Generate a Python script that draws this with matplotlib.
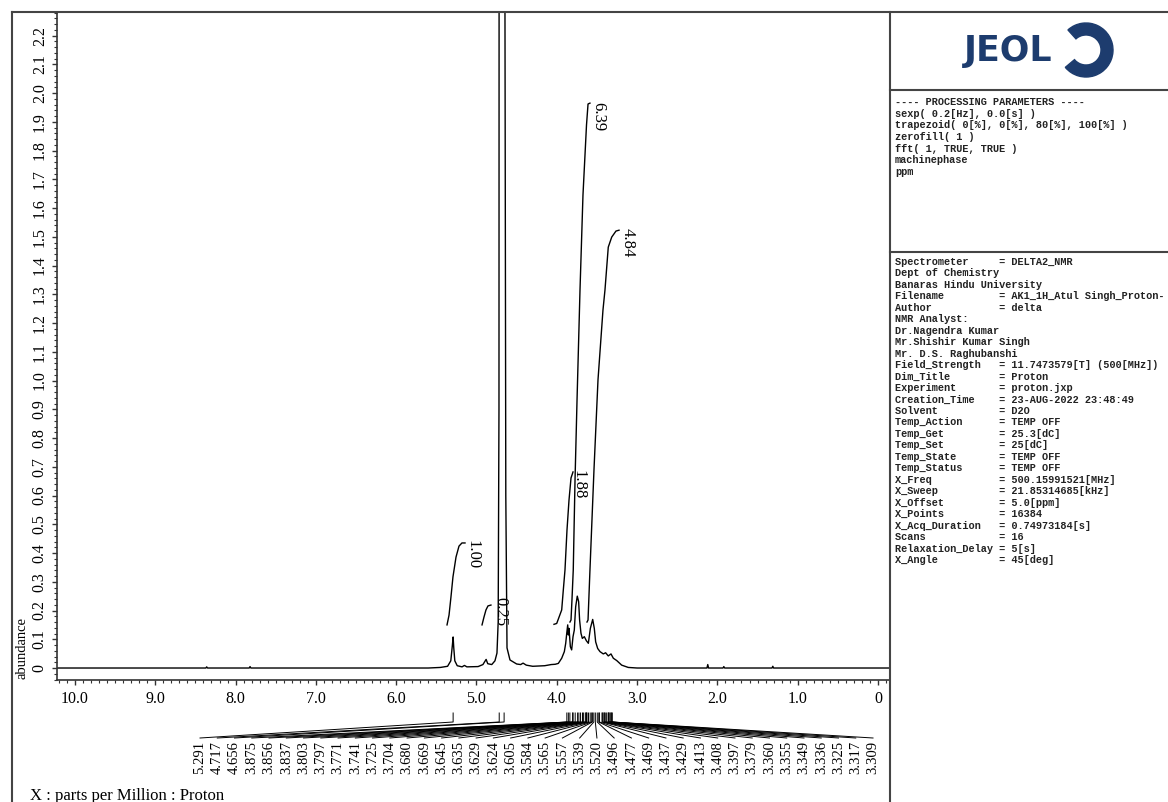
import matplotlib.pyplot as plt
import numpy as np
from matplotlib.patches import Wedge
from matplotlib.ticker import FixedLocator, MultipleLocator

plt.rcParams['font.family'] = ['Liberation Serif', 'DejaVu Serif']

W, H = 1168, 802

# espectro (ppm, abundancia)
ppm = [10.22, 8.37, 8.36, 8.35, 7.83, 7.82, 7.81, 5.60, 5.45, 5.36, 5.32, 5.30,
       5.291, 5.283, 5.27, 5.24, 5.18, 5.15, 5.12, 4.98, 4.92, 4.88, 4.86, 4.81,
       4.77, 4.745, 4.73, 4.72, 4.717, 4.656, 4.635, 4.62, 4.583, 4.50, 4.45,
       4.42, 4.38, 4.30, 4.15, 4.07, 4.02, 3.981, 3.939, 3.906, 3.889, 3.876,
       3.864, 3.856, 3.848, 3.831, 3.815, 3.798, 3.782, 3.765, 3.745, 3.728,
       3.716, 3.699, 3.682, 3.657, 3.632, 3.607, 3.582, 3.553, 3.533, 3.516,
       3.491, 3.462, 3.421, 3.392, 3.359, 3.325, 3.296, 3.254, 3.192, 3.110,
       3.00, 2.13, 2.12, 2.11, 1.93, 1.92, 1.91, 1.32, 1.31, 1.30, -0.14]
abund = [0.0, 0.0, 0.004, 0.0, 0.0, 0.005, 0.0, 0.0, 0.002, 0.006, 0.025, 0.08,
         0.108, 0.07, 0.025, 0.008, 0.004, 0.009, 0.004, 0.005, 0.012, 0.030, 0.015, 0.012,
         0.025, 0.052, 0.16, 0.9, 4.0, 4.0, 0.6, 0.07, 0.028, 0.014, 0.012,
         0.017, 0.010, 0.006, 0.008, 0.012, 0.013, 0.016, 0.034, 0.057, 0.086, 0.121,
         0.150, 0.115, 0.138, 0.074, 0.063, 0.109, 0.132, 0.213, 0.250, 0.231,
         0.167, 0.121, 0.103, 0.109, 0.095, 0.086, 0.138, 0.169, 0.138, 0.091,
         0.068, 0.057, 0.049, 0.053, 0.042, 0.049, 0.034, 0.026, 0.010, 0.002,
         0.0, 0.0, 0.012, 0.0, 0.0, 0.005, 0.0, 0.0, 0.006, 0.0, 0.0]

# curvas de integracion
int_labels = ["1.00", "0.25", "1.88", "6.39", "4.84"]
int_ppm = [
    [5.367, 5.342, 5.318, 5.293, 5.255, 5.218, 5.181, 5.143],
    [4.931, 4.907, 4.882, 4.857, 4.820],
    [4.035, 4.001, 3.939, 3.919, 3.898, 3.873, 3.848, 3.823, 3.798],
    [3.836, 3.823, 3.811, 3.795, 3.773, 3.748, 3.711, 3.674, 3.630, 3.611, 3.587],
    [3.624, 3.611, 3.587, 3.537, 3.487, 3.425, 3.400, 3.359, 3.316, 3.263, 3.225],
]
int_val = [
    [0.150, 0.184, 0.247, 0.317, 0.386, 0.424, 0.435, 0.435],
    [0.150, 0.177, 0.202, 0.216, 0.219],
    [0.152, 0.155, 0.202, 0.271, 0.341, 0.480, 0.584, 0.661, 0.682],
    [0.160, 0.167, 0.237, 0.341, 0.654, 0.932, 1.315, 1.645, 1.889, 1.962, 1.965],
    [0.160, 0.167, 0.341, 0.689, 1.002, 1.245, 1.315, 1.464, 1.499, 1.520, 1.523],
]
int_text_ppm = [5.044, 4.707, 3.736, 3.487, 3.113]
int_text_val = [0.393, 0.195, 0.637, 1.917, 1.478]

# picos marcados
peaks = [5.291, 4.717, 4.656, 3.875, 3.856, 3.837, 3.803, 3.797, 3.771, 3.741,
         3.725, 3.704, 3.680, 3.669, 3.645, 3.635, 3.629, 3.624, 3.605, 3.584,
         3.565, 3.557, 3.539, 3.520, 3.496, 3.477, 3.469, 3.437, 3.429, 3.413,
         3.408, 3.397, 3.379, 3.360, 3.355, 3.349, 3.336, 3.325, 3.317, 3.309]

x_ticks = [10, 9, 8, 7, 6, 5, 4, 3, 2, 1, 0]
x_ticklabels = ["10.0", "9.0", "8.0", "7.0", "6.0", "5.0", "4.0", "3.0", "2.0", "1.0", "0"]
y_ticks = [round(0.1 * i, 1) for i in range(23)]
y_ticklabels = ["0"] + [f"{v:.1f}" for v in y_ticks[1:]]

proc_lines = ["---- PROCESSING PARAMETERS ----",
              "sexp( 0.2[Hz], 0.0[s] )",
              "trapezoid( 0[%], 0[%], 80[%], 100[%] )",
              "zerofill( 1 )",
              "fft( 1, TRUE, TRUE )",
              "machinephase",
              "ppm"]

param_keys = ["Spectrometer", "Dept of Chemistry", "Banaras Hindu University", "Filename",
              "Author", "NMR Analyst:", "Dr.Nagendra Kumar", "Mr.Shishir Kumar Singh",
              "Mr. D.S. Raghubanshi", "Field_Strength", "Dim_Title", "Experiment",
              "Creation_Time", "Solvent", "Temp_Action", "Temp_Get", "Temp_Set",
              "Temp_State", "Temp_Status", "X_Freq", "X_Sweep", "X_Offset", "X_Points",
              "X_Acq_Duration", "Scans", "Relaxation_Delay", "X_Angle"]
param_vals = ["DELTA2_NMR", None, None, "AK1_1H_Atul Singh_Proton-", "delta", None, None,
              None, None, "11.7473579[T] (500[MHz])", "Proton", "proton.jxp",
              "23-AUG-2022 23:48:49", "D2O", "TEMP OFF", "25.3[dC]", "25[dC]",
              "TEMP OFF", "TEMP OFF", "500.15991521[MHz]", "21.85314685[kHz]",
              "5.0[ppm]", "16384", "0.74973184[s]", "16", "5[s]", "45[deg]"]


def fy(y):
    return 1 - y / H


fig = plt.figure(figsize=(W / 100, H / 100), dpi=100)

XL = (10.224, -0.137)
ax = fig.add_axes([57 / W, fy(680), (889 - 57) / W, (680 - 12) / H])
ax.set_facecolor('none')
ax.plot(ppm, abund, color='black', lw=1.0)
for xs, ys in zip(int_ppm, int_val):
    ax.plot(xs, ys, color='black', lw=1.0)
for lab, xt, yt in zip(int_labels, int_text_ppm, int_text_val):
    ax.text(xt, yt, lab, rotation=270, ha='center', va='center', fontsize=12)
ax.set_xlim(*XL)
ax.set_ylim(-0.0417, 2.282)
for s in ['top', 'right']:
    ax.spines[s].set_visible(False)
for s in ['left', 'bottom']:
    ax.spines[s].set_color('#333333')
    ax.spines[s].set_linewidth(1.2)
ax.xaxis.set_major_locator(FixedLocator(x_ticks))
ax.set_xticklabels(x_ticklabels, fontsize=11.5)
ax.xaxis.set_minor_locator(MultipleLocator(0.1))
ax.yaxis.set_major_locator(FixedLocator(y_ticks))
ax.set_yticklabels(y_ticklabels, fontsize=11.5, rotation=90, va='center')
ax.yaxis.set_minor_locator(MultipleLocator(0.02))
ax.tick_params(which='major', length=3.6, width=1, color='#333333')
ax.tick_params(which='minor', length=2, width=0.8, color='#333333')
ax.tick_params(axis='x', pad=4.4)
ax.tick_params(axis='y', pad=3)

# etiquetas de picos debajo del eje
ax_pk = fig.add_axes([57 / W, 0, (889 - 57) / W, fy(700)])
ax_pk.set_xlim(*XL)
ax_pk.set_ylim(H, 700)
ax_pk.axis('off')
lab_pos = np.linspace(8.443, 0.062, len(peaks))
for p, lp in zip(peaks, lab_pos):
    ax_pk.plot([p, p, lp], [713, 722, 738], color='black', lw=0.7, clip_on=False)
    ax_pk.text(lp, 741, f"{p:.3f}", rotation=90, ha='center', va='top', fontsize=10.5)

# marco, logo y parametros
ov = fig.add_axes([0, 0, 1, 1])
ov.set_xlim(0, W)
ov.set_ylim(H, 0)
ov.axis('off')
fc = '#444444'
ov.plot([12, 12], [12, H], color=fc, lw=1.5)
ov.plot([12, W], [12, 12], color=fc, lw=1.5)
ov.plot([890, 890], [12, H], color=fc, lw=1.5)
ov.plot([890, W], [90, 90], color=fc, lw=1.5)
ov.plot([890, W], [252, 252], color=fc, lw=1.5)

jeol = '#1d3c6e'
ov.text(1008, 51, "JEOL", ha='center', va='center', fontsize=25, fontweight='heavy',
        family='DejaVu Sans', color=jeol)
ov.add_patch(Wedge((1086, 50), 27, -132, 140, width=12, color=jeol))

for i, line in enumerate(proc_lines):
    ov.text(895, 102 + i * 11.67, line, ha='left', va='center', fontsize=7.4,
            family='Liberation Mono', fontweight='bold', color='#222222')
for i, (k, v) in enumerate(zip(param_keys, param_vals)):
    line = k if v is None else f"{k:<16} = {v}"
    ov.text(895, 262 + i * 11.46, line, ha='left', va='center', fontsize=7.4,
            family='Liberation Mono', fontweight='bold', color='#222222')

ov.text(22, 648, "abundance", rotation=90, ha='center', va='center', fontsize=10.5)
ov.text(30, 796, "X : parts per Million : Proton", ha='left', va='center', fontsize=12)

fig.savefig("out.png", dpi=100)
